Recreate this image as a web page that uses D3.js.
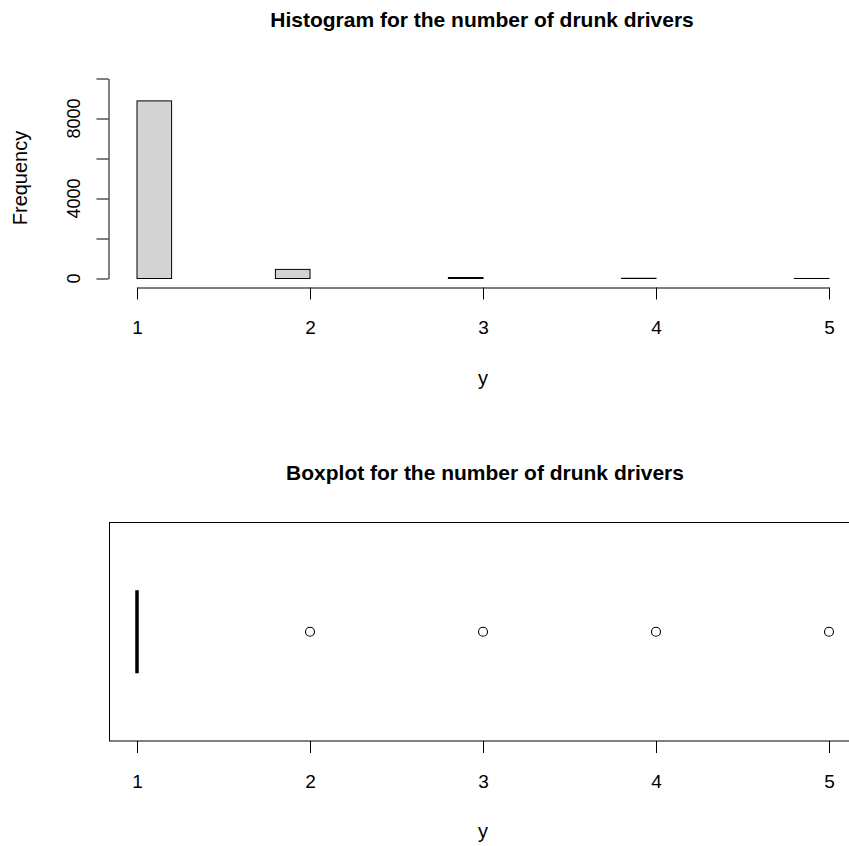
<!DOCTYPE html>
<html><head><meta charset="utf-8">
<script src="https://cdn.jsdelivr.net/npm/d3@7"></script>
<style>body{margin:0;background:#fff}svg{display:block;font-family:"Liberation Sans",Arial,sans-serif}</style>
</head><body>
<svg id="c" width="849" height="846"></svg>
<script>
const binStarts = [1.0,1.2,1.4,1.6,1.8,2.0,2.2,2.4,2.6,2.8,3.0,3.2,3.4,3.6,3.8,4.0,4.2,4.4,4.6,4.8];
const binCounts = [8880,0,0,0,455,0,0,0,0,50,0,0,0,0,12,0,0,0,0,1];
const binWidth = 0.2;
const xTicks = [1,2,3,4,5];
const yTicks = [0,2000,4000,6000,8000,10000];
const yLabels = [0,4000,8000];
const boxStats = {min:1,q1:1,median:1,q3:1,max:1};
const outliers = [2,3,4,5];

const FONT = "Liberation Sans, Arial, sans-serif";
const svg = d3.select("#c");
const x = d3.scaleLinear().domain([1,5]).range([137,829]);
const y = d3.scaleLinear().domain([0,10000]).range([278.5,78.5]);

// Histogram title
svg.append("text").attr("x",482).attr("y",27).attr("text-anchor","middle")
  .attr("font-weight","bold").attr("font-size",21).text("Histogram for the number of drunk drivers");

// bars
svg.append("g").selectAll("rect").data(binStarts).join("rect")
  .attr("x",(d)=>x(d)).attr("width",x(1+binWidth)-x(1))
  .attr("y",(d,i)=>y(binCounts[i])).attr("height",(d,i)=>y(0)-y(binCounts[i]))
  .attr("fill","#d3d3d3").attr("stroke","#000").attr("stroke-width",1);

// x axis hist
const xa = svg.append("g").attr("transform","translate(0,287.5)");
xa.call(d3.axisBottom(x).tickValues(xTicks).tickSize(12).tickSizeOuter(0).tickFormat(d3.format("d")));
xa.selectAll("text").attr("y",46.5).attr("dy",0).attr("font-size",19).attr("fill","#000").attr("font-family",FONT);
xa.select(".domain").attr("stroke","#000");
svg.append("text").attr("x",483).attr("y",385).attr("text-anchor","middle").attr("font-size",20).text("y");

// y axis hist
const ya = svg.append("g").attr("transform","translate(108.5,0)");
ya.call(d3.axisLeft(y).tickValues(yTicks).tickSize(12).tickSizeOuter(0).tickFormat(""));
ya.select(".domain").attr("stroke","#000");
svg.append("g").selectAll("text").data(yLabels).join("text")
  .attr("transform",d=>`translate(80,${y(d)}) rotate(-90)`)
  .attr("text-anchor","middle").attr("font-size",18).text(d=>d);
svg.append("text").attr("transform","translate(27,178) rotate(-90)")
  .attr("text-anchor","middle").attr("font-size",20).text("Frequency");

// Boxplot
svg.append("text").attr("x",485).attr("y",480).attr("text-anchor","middle")
  .attr("font-weight","bold").attr("font-size",21).text("Boxplot for the number of drunk drivers");
const bx = d3.scaleLinear().domain([1,5]).range([137,829]);
const by = d3.scaleLinear().domain([0,1]).range([741,522.5]);
svg.append("rect").attr("x",109.5).attr("y",522.5).attr("width",x(5.16)-109.5).attr("height",741-522.5)
  .attr("fill","none").attr("stroke","#000");
svg.append("line").attr("x1",bx(boxStats.median)).attr("x2",bx(boxStats.median))
  .attr("y1",by(0.69)).attr("y2",by(0.31)).attr("stroke","#000").attr("stroke-width",3.5);
svg.append("g").selectAll("circle").data(outliers).join("circle")
  .attr("cx",d=>bx(d)).attr("cy",by(0.5)).attr("r",4.5).attr("fill","none").attr("stroke","#000").attr("stroke-width",1.1);
const bxa = svg.append("g").attr("transform","translate(0,741)");
bxa.call(d3.axisBottom(bx).tickValues(xTicks).tickSize(12).tickSizeOuter(0).tickFormat(d3.format("d")));
bxa.select(".domain").remove();
bxa.selectAll("text").attr("y",46.5).attr("dy",0).attr("font-size",19).attr("fill","#000").attr("font-family",FONT);
svg.append("text").attr("x",483).attr("y",838).attr("text-anchor","middle").attr("font-size",20).text("y");
</script>
</body></html>
